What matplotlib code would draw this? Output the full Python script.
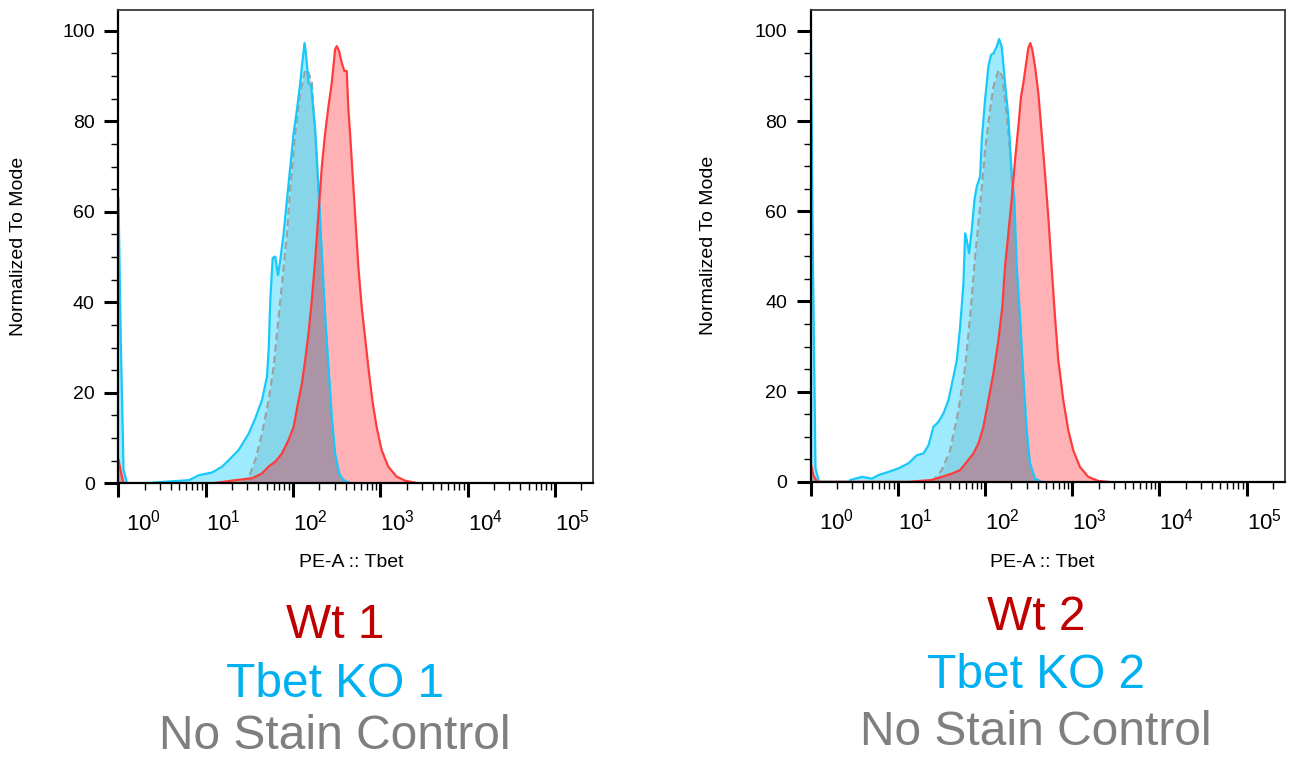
import numpy as np
import matplotlib.pyplot as plt
from matplotlib import ticker, transforms

plt.rcParams['font.family'] = ['Liberation Sans', 'DejaVu Sans']
plt.rcParams['mathtext.fontset'] = 'custom'
plt.rcParams['mathtext.rm'] = 'Liberation Sans'

# PE-A :: Tbet intensity (log10 decades) and % of mode, read off the two FlowJo overlays
# panel 1
ctrl1_log = [1.418, 1.513, 1.570, 1.646, 1.722, 1.779, 1.837, 1.894, 1.932, 1.970, 2.027, 2.084,
             2.141, 2.179, 2.217, 2.255, 2.293, 2.331, 2.369, 2.407, 2.445, 2.483, 2.540, 2.616]
ctrl1_pct = [0, 2.2, 5.2, 11, 18.4, 25.8, 36.9, 48, 55.3, 65.6, 77.4, 86.3,
             91.4, 90.7, 88.5, 77, 64, 50, 36.5, 25, 14.7, 6.3, 1.5, 0]

ko1_log = [0.002, 0.030, 0.060, 0.100, 0.278, 0.582, 0.810, 0.924, 1.076, 1.190, 1.285, 1.380,
           1.494, 1.570, 1.646, 1.703, 1.722, 1.741, 1.768, 1.798, 1.829, 1.856, 1.894, 1.932,
           1.970, 2.008, 2.046, 2.084, 2.103, 2.133, 2.148, 2.179, 2.209, 2.236, 2.255, 2.293,
           2.331, 2.369, 2.407, 2.445, 2.483, 2.529, 2.578, 2.654]
ko1_pct = [63, 30, 3, 0, 0, 0.4, 0.7, 1.8, 2.4, 3.7, 5.5, 7.4,
           11, 14.4, 18.4, 23.6, 29.5, 40.6, 49.8, 50.1, 46, 49.4, 55.3, 62.7,
           70, 77.4, 82.6, 88.5, 92.2, 97.3, 95.1, 88.5, 87.8, 81.9, 78.2, 65.6,
           50.9, 36.9, 25.8, 14.7, 6.6, 2.2, 0.7, 0.1]

wt1_log = [0.002, 0.030, 0.060, 1.076, 1.342, 1.532, 1.646, 1.722, 1.798, 1.875, 1.951, 2.008,
           2.065, 2.103, 2.141, 2.179, 2.217, 2.255, 2.293, 2.331, 2.369, 2.407, 2.445, 2.483,
           2.502, 2.529, 2.559, 2.589, 2.616, 2.635, 2.654, 2.673, 2.711, 2.749, 2.787, 2.825,
           2.863, 2.909, 2.958, 3.015, 3.091, 3.186, 3.281, 3.433]
wt1_pct = [5.2, 2.5, 0, 0, 0.7, 1.1, 2.2, 3.7, 4.8, 6.6, 9.6, 12.5,
           18.4, 22.1, 27.3, 33.2, 40.6, 49.4, 59.7, 70, 77.4, 83.3, 88.5, 95.9,
           96.6, 95.5, 92.9, 91.1, 91.1, 82.6, 77.4, 71.5, 59.7, 47.9, 39.1, 32.4,
           25.8, 18.4, 12.5, 7.4, 3.7, 1.5, 0.6, 0]

# panel 2
ctrl2_log = [1.389, 1.504, 1.599, 1.695, 1.771, 1.828, 1.885, 1.943, 2.000, 2.057, 2.095, 2.153,
             2.198, 2.248, 2.286, 2.324, 2.363, 2.401, 2.439, 2.477, 2.515, 2.573, 2.649]
ctrl2_pct = [0, 2.6, 7.0, 15.9, 25.5, 36.6, 49.9, 61.0, 73.6, 82.5, 87.6, 91.3,
             89.9, 81.0, 73.6, 61.0, 46.5, 35.5, 22.5, 11.0, 3.8, 0.6, 0]

ko2_log = [0.002, 0.025, 0.055, 0.095, 0.435, 0.454, 0.588, 0.702, 0.779, 0.893, 1.008, 1.122,
           1.218, 1.294, 1.351, 1.408, 1.466, 1.523, 1.580, 1.637, 1.676, 1.714, 1.752, 1.771,
           1.790, 1.817, 1.847, 1.878, 1.905, 1.943, 1.962, 2.000, 2.038, 2.069, 2.095, 2.134,
           2.160, 2.191, 2.229, 2.267, 2.305, 2.336, 2.363, 2.401, 2.439, 2.477, 2.515, 2.573, 2.649]
ko2_pct = [100.9, 50, 3, 0, 0, 0.4, 1.1, 0.7, 1.5, 2.2, 3.0, 4.1,
           5.9, 6.3, 8.1, 12.2, 13.3, 15.2, 18.1, 23.3, 27.0, 34.4, 44.0, 55.1,
           53.6, 50.7, 55.8, 62.5, 65.5, 67.7, 75.8, 84.7, 92.1, 94.7, 95.0, 96.5,
           98.2, 96.5, 88.4, 81.0, 68.4, 62.5, 47.7, 36.6, 23.3, 11.5, 4.1, 0.7, 0]

wt2_log = [0.002, 0.030, 0.070, 1.122, 1.389, 1.504, 1.618, 1.714, 1.790, 1.866, 1.924, 1.981,
           2.038, 2.095, 2.153, 2.198, 2.229, 2.267, 2.305, 2.344, 2.382, 2.412, 2.439, 2.466,
           2.496, 2.519, 2.542, 2.573, 2.611, 2.649, 2.687, 2.725, 2.763, 2.802, 2.840, 2.897,
           2.954, 3.011, 3.088, 3.183, 3.298, 3.412]
wt2_pct = [4.0, 1.5, 0, 0, 0.4, 1.1, 1.8, 2.6, 4.4, 6.3, 8.5, 12.2,
           18.1, 24.0, 31.4, 38.8, 47.7, 55.1, 62.5, 71.4, 78.8, 85.4, 88.4, 92.1,
           96.2, 97.3, 95.8, 92.1, 86.2, 77.3, 68.4, 58.8, 47.7, 36.6, 27.0, 18.1,
           11.5, 7.0, 3.3, 1.1, 0.2, 0]

x_ticks = [1, 10, 100, 1000, 10000, 100000]
x_tick_labels = ['$10^{0}$', '$10^{1}$', '$10^{2}$', '$10^{3}$', '$10^{4}$', '$10^{5}$']
y_ticks = [0, 20, 40, 60, 80, 100]

wt_names = ['Wt 1', 'Wt 2']
ko_names = ['Tbet KO 1', 'Tbet KO 2']
ctrl_name = 'No Stain Control'


def draw_panel(ax, ctrl, ko, wt):
    # no stain control underneath, then KO, then WT on top
    x = 10 ** np.array(ctrl[0])
    ax.fill_between(x, ctrl[1], 0, color='#808080', alpha=0.28, lw=0)
    ax.plot(x, ctrl[1], color='#a0a0a0', lw=1.5, ls=(0, (3.5, 2)))

    x = 10 ** np.array(ko[0])
    ax.fill_between(x, ko[1], 0, color='#00ccff', alpha=0.38, lw=0)
    ax.plot(x, ko[1], color='#19c8fa', lw=1.6)

    x = 10 ** np.array(wt[0])
    ax.fill_between(x, wt[1], 0, color='#ff000c', alpha=0.3, lw=0)
    ax.plot(x, wt[1], color='#ff3c3c', lw=1.6)

    ax.set_xscale('log')
    ax.set_xlim(1, 10 ** 5.44)
    ax.set_ylim(0, 104.7)

    ax.set_xticks(x_ticks, x_tick_labels)
    ax.xaxis.set_minor_locator(ticker.LogLocator(base=10, subs=np.arange(2, 10), numticks=30))
    ax.xaxis.set_minor_formatter(ticker.NullFormatter())
    ax.set_yticks(y_ticks)
    ax.yaxis.set_minor_locator(ticker.MultipleLocator(5))

    ax.tick_params(which='major', direction='out', length=10, width=2.2, labelsize=14)
    ax.tick_params(which='minor', direction='out', length=5, width=1)
    ax.tick_params(axis='y', which='major', pad=7)
    ax.tick_params(axis='x', which='major', pad=9, labelsize=16)

    for i, lab in enumerate(ax.get_xticklabels()):
        lab.set_ha('left')
        if i == 0:
            lab.set_transform(lab.get_transform() +
                              transforms.ScaledTranslation(0.08, 0, fig.dpi_scale_trans))

    for side in ['left', 'bottom']:
        ax.spines[side].set_linewidth(1.6)
        ax.spines[side].set_color('black')
    for side in ['top', 'right']:
        ax.spines[side].set_linewidth(1.3)
        ax.spines[side].set_color('#3a3a3a')

    ax.set_ylabel('Normalized To Mode', fontsize=14)
    ax.yaxis.label.set_va('center')
    ax.set_xlabel('PE-A :: Tbet', fontsize=14)
    ax.xaxis.label.set_va('center')


fig = plt.figure(figsize=(12.95, 7.57), dpi=100)
W, H = 1295, 757

ax1 = fig.add_axes([118.3 / W, 1 - 483.3 / H, 475 / W, 473.8 / H])
ax2 = fig.add_axes([810.7 / W, 1 - 481.8 / H, 474.3 / W, 472.1 / H])

draw_panel(ax1, (ctrl1_log, ctrl1_pct), (ko1_log, ko1_pct), (wt1_log, wt1_pct))
draw_panel(ax2, (ctrl2_log, ctrl2_pct), (ko2_log, ko2_pct), (wt2_log, wt2_pct))

ax1.yaxis.set_label_coords(-0.211, 0.5)
ax1.xaxis.set_label_coords(0.49, -0.168)
ax2.yaxis.set_label_coords(-0.2165, 0.5)
ax2.xaxis.set_label_coords(0.488, -0.170)

# sample legends under each panel
label_x = [335, 1036]
label_base = [(638, 697, 749), (630, 688, 745)]
for i in range(2):
    cx = label_x[i] / W
    b = label_base[i]
    fig.text(cx, 1 - b[0] / H, wt_names[i], color='#c00000', fontsize=34.5,
             ha='center', va='baseline')
    fig.text(cx, 1 - b[1] / H, ko_names[i], color='#00b0f0', fontsize=34.5,
             ha='center', va='baseline')
    fig.text(cx, 1 - b[2] / H, ctrl_name, color='#7f7f7f', fontsize=34.5,
             ha='center', va='baseline')

fig.savefig('out.png', dpi=100)
